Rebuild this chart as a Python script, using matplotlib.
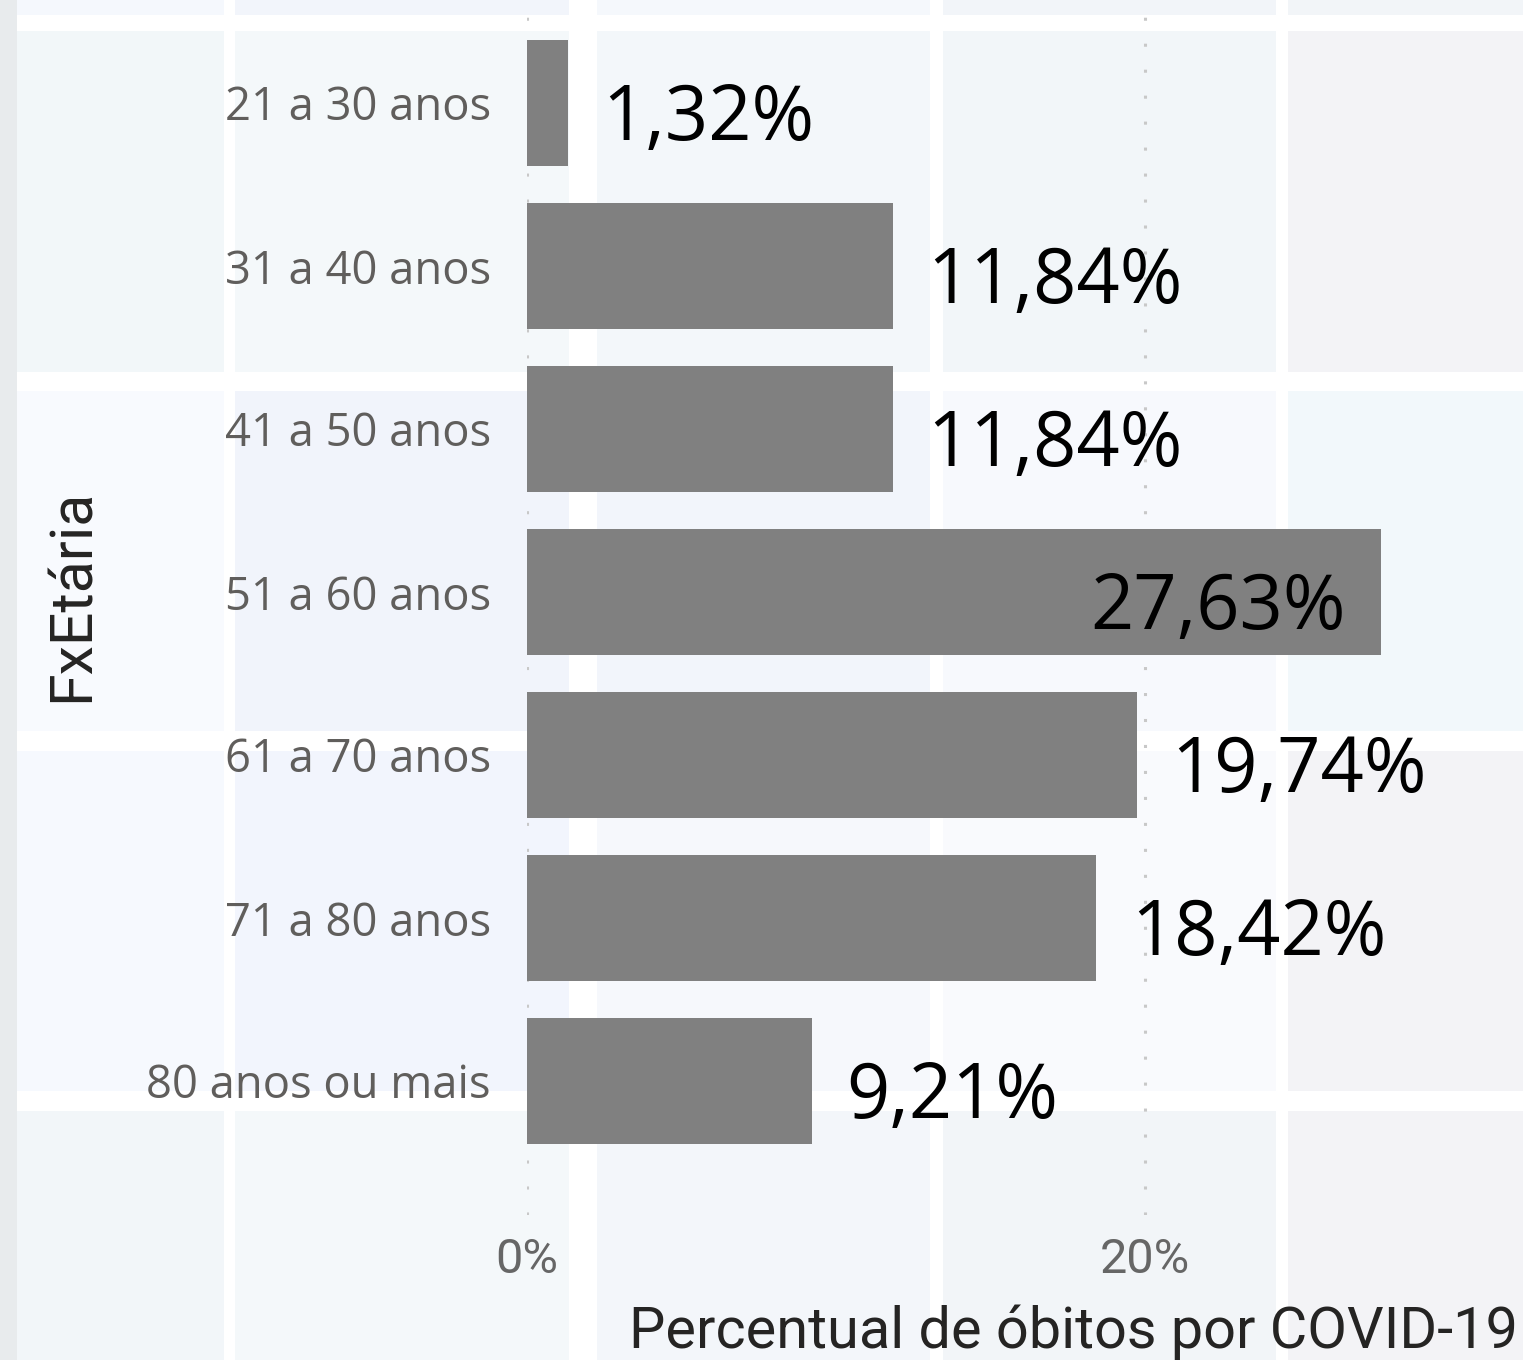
# -*- coding: utf-8 -*-
"""Percentual de óbitos por COVID-19 por faixa etária (barras horizontais)."""

import matplotlib

matplotlib.use("Agg")
import matplotlib.pyplot as plt
from matplotlib.patches import Rectangle

# ==================== Data ====================
FAIXAS = [
    "21 a 30 anos",
    "31 a 40 anos",
    "41 a 50 anos",
    "51 a 60 anos",
    "61 a 70 anos",
    "71 a 80 anos",
    "80 anos ou mais",
]
PERCENTUAIS = [1.32, 11.84, 11.84, 27.63, 19.74, 18.42, 9.21]
X_TICKS = [0, 20]
X_TICK_LABELS = ["0%", "20%"]

# ==================== Style ====================
W_PX, H_PX = 1523, 1360
DPI = 100
BAR_COLOR = "#808080"
LABEL_GREY = "#605e5c"
TITLE_COLOR = "#252423"
GRID_COLOR = "#c8c8c8"
BODY_FONT = ["Open Sans", "DejaVu Sans"]
DIN_FONT = ["Roboto", "DejaVu Sans"]

# background tiles (pixel edges) of the report canvas
TILE_COLS = [(17, 224), (235, 569), (597, 930), (943, 1276), (1288, 1523)]
TILE_ROWS = [(0, 15), (31, 372), (391, 731), (751, 1091), (1111, 1360)]
TILE_COLORS = [
    ["#f5f8fd", "#f2f5fb", "#f5f8fc", "#f2f5f9", "#f2f5f8"],
    ["#f2f7f9", "#f4f8fa", "#f3f7fa", "#f2f6f9", "#f3f3f6"],
    ["#f8fafe", "#f1f4fb", "#f2f5fb", "#f7f9fd", "#f2f8fb"],
    ["#f6f9fe", "#f2f5fd", "#f6f8fc", "#f9fafd", "#f3f3f6"],
    ["#f2f6f9", "#f4f8fa", "#f3f6fa", "#f2f5f8", "#f3f3f6"],
]


def fx(px):
    return px / W_PX


def fy(px):
    return 1 - px / H_PX


def draw_background(fig):
    fig.add_artist(Rectangle((0, 0), fx(17), 1, transform=fig.transFigure,
                             facecolor="#e8ebed", edgecolor="none", zorder=-10))
    for r, (y0, y1) in enumerate(TILE_ROWS):
        for c, (x0, x1) in enumerate(TILE_COLS):
            fig.add_artist(Rectangle((fx(x0), fy(y1)), fx(x1) - fx(x0), fy(y0) - fy(y1),
                                     transform=fig.transFigure,
                                     facecolor=TILE_COLORS[r][c], edgecolor="none",
                                     zorder=-9))


def main():
    fig = plt.figure(figsize=(W_PX / DPI, H_PX / DPI), dpi=DPI)
    fig.patch.set_facecolor("white")
    draw_background(fig)

    # axes: 0% at x=527px, 20% at x=1145px, plot bottom at y=1215px
    px_per_pct = (1145 - 527) / 20.0
    ax = fig.add_axes([fx(527), fy(1215), 1 - fx(527), fy(0) - fy(1215)])
    ax.set_facecolor("none")
    ax.set_xlim(0, (W_PX - 527) / px_per_pct)
    pitch = 163.0
    ax.set_ylim((1215 - 103) / pitch, -103 / pitch)

    ys = list(range(len(FAIXAS)))
    ax.barh(ys, PERCENTUAIS, height=126 / pitch, color=BAR_COLOR, zorder=2)

    for x in X_TICKS:
        ax.axvline(x, color=GRID_COLOR, linewidth=2.2, linestyle=(0, (1, 7.5)),
                   dash_capstyle="butt", zorder=1)

    for y, v in zip(ys, PERCENTUAIS):
        txt = f"{v:.2f}%".replace(".", ",")
        inside = v > 25
        ax.annotate(txt, (v, y), xytext=(-25 if inside else 25, -12),
                    textcoords="offset points",
                    ha="right" if inside else "left", va="center",
                    fontsize=54.5, color="black", family=BODY_FONT, zorder=3)

    ax.set_yticks(ys)
    ax.set_yticklabels(FAIXAS, family=BODY_FONT, fontsize=32.7, color=LABEL_GREY)
    ax.set_xticks(X_TICKS)
    ax.set_xticklabels(X_TICK_LABELS, family=DIN_FONT, fontsize=35, color="#666666")
    ax.tick_params(axis="y", length=0, pad=26)
    ax.tick_params(axis="x", length=0, pad=16)
    for side in ax.spines.values():
        side.set_visible(False)

    fig.text(fx(1518), fy(1332), "Percentual de óbitos por COVID-19", ha="right",
             va="center", fontsize=41.5, color=TITLE_COLOR, family=DIN_FONT)
    fig.text(fx(72), fy(595), "FxEtária", ha="center", va="center", rotation=90,
             fontsize=42.5, color=TITLE_COLOR, family=DIN_FONT)

    fig.savefig("out.png", dpi=DPI)
    plt.close(fig)


if __name__ == "__main__":
    main()
